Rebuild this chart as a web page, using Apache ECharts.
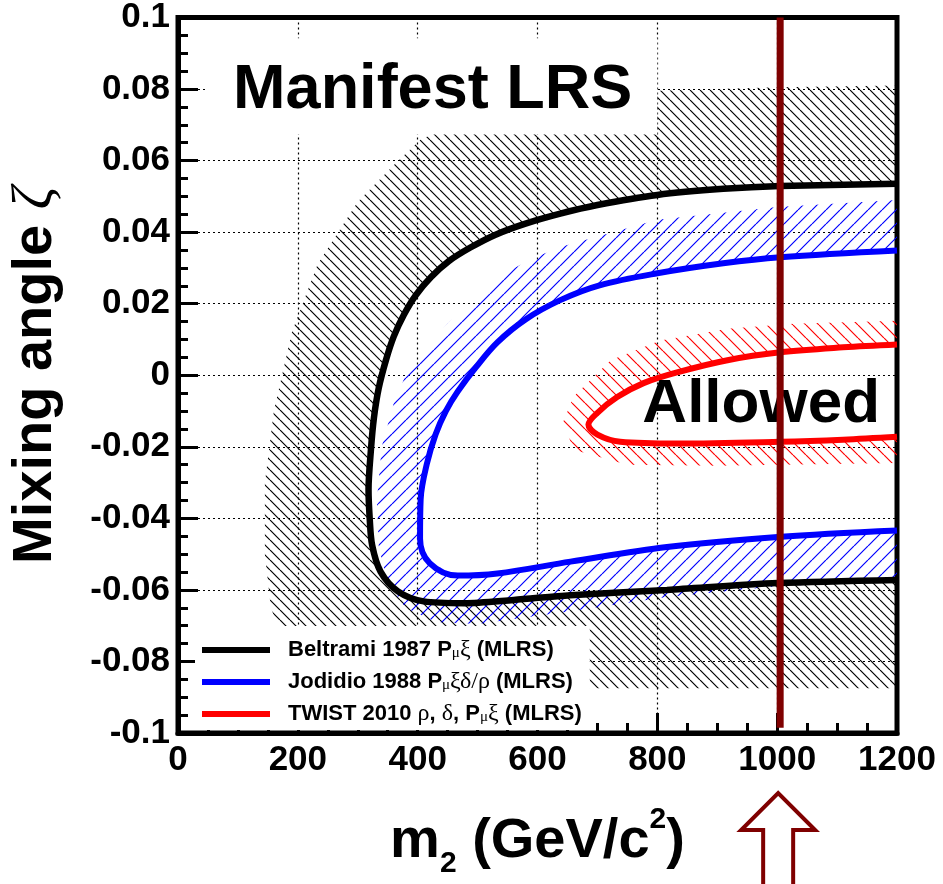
<!DOCTYPE html>
<html><head><meta charset="utf-8">
<script src="https://cdn.jsdelivr.net/npm/echarts@6/dist/echarts.min.js"></script>
<style>html,body{margin:0;padding:0;background:#fff}#c{width:943px;height:884px}</style>
</head><body><div id="c"></div>
<script>
// ---------- data ----------
const xTickLabels = ['0','200','400','600','800','1000','1200'];
const yTickLabels = ['-0.1','-0.08','-0.06','-0.04','-0.02','0','0.02','0.04','0.06','0.08','0.1'];
const seriesNames = ['Beltrami 1987', 'Jodidio 1988', 'TWIST 2010'];

// contour lines [m2 (GeV/c^2), zeta]
const beltramiCurve = [
 [1200,0.0535],[1005,0.0529],[910,0.0521],[800,0.0504],[700,0.0476],[638,0.0452],[580,0.0424],
 [530,0.0393],[488,0.0357],[452,0.0319],[422,0.0274],[397,0.0224],[377,0.0169],[360,0.0108],
 [347,0.0042],[335,-0.0036],[327,-0.0119],[322,-0.0208],[318,-0.0319],[320,-0.0402],[324,-0.0475],
 [338,-0.0549],[367,-0.0604],[410,-0.0632],[477,-0.0637],[560,-0.0628],[655,-0.0615],[816,-0.0600],
 [1001,-0.0581],[1200,-0.0572]];
const jodidioCurve = [
 [1200,0.0349],[1005,0.0330],[910,0.0313],[800,0.0285],[705,0.0252],[638,0.0210],[580,0.0156],
 [533,0.0092],[497,0.0022],[467,-0.0045],[447,-0.0100],[430,-0.0165],[415,-0.0250],[405,-0.0346],
 [404,-0.0457],[420,-0.0525],[467,-0.0560],[533,-0.0554],[655,-0.0521],[816,-0.0480],[1001,-0.0452],[1200,-0.0434]];
const twistCurve = [
 [1200,0.0086],[1110,0.0078],[1005,0.0064],[917,0.0042],[833,0.0008],[777,-0.0022],[733,-0.0061],
 [700,-0.0105],[685,-0.0138],[700,-0.0166],[738,-0.0186],[833,-0.0191],[1005,-0.0186],[1110,-0.0180],[1200,-0.0172]];

// outer edges of the hatched (excluded) bands
const beltramiExcludedEdge = [
 [1200,0.081],[1000,0.0805],[800,0.0795],[600,0.076],[480,0.071],[405,0.066],[360,0.0587],[300,0.0485],
 [233,0.031],[190,0.012],[160,-0.010],[145,-0.030],[145,-0.050],[155,-0.065],[180,-0.076],[220,-0.084],
 [280,-0.0875],[400,-0.0875],[800,-0.0875],[1200,-0.0875]];
const jodidioExcludedEdge = [
 [1200,0.049],[1000,0.047],[800,0.0435],[635,0.0357],[593,0.0327],[550,0.029],[450,0.0145],[385,0.002],
 [360,-0.0078],[340,-0.020],[332,-0.035],[335,-0.048],[350,-0.058],[380,-0.065],[430,-0.069],[500,-0.0695],
 [655,-0.066],[816,-0.062],[1000,-0.059],[1200,-0.0575]];
const twistExcludedEdge = [
 [1200,0.0152],[1027,0.0144],[917,0.0130],[805,0.0097],[722,0.0042],[660,-0.006],[643,-0.013],
 [660,-0.0208],[750,-0.025],[900,-0.0253],[1200,-0.0245]];

const markerMass = 1005;          // vertical marker line
const markerSpan = [-0.0985, 0.1];

// ---------- helpers ----------
function hatch(color, s, dir, lw) {
  const c = document.createElement('canvas'); c.width = s; c.height = s;
  const ctx = c.getContext('2d'); ctx.strokeStyle = color; ctx.lineWidth = lw;
  ctx.beginPath();
  for (let k = -1; k <= 1; k++) {
    if (dir === '\\') { ctx.moveTo(k*s, 0); ctx.lineTo(k*s + s, s); }
    else { ctx.moveTo(k*s, s); ctx.lineTo(k*s + s, 0); }
  }
  ctx.stroke();
  return {image: c, repeat: 'repeat'};
}
function band(name, curve, edge, pattern) {
  const poly = curve.concat(edge.slice().reverse());
  return {
    type: 'custom', name: name, data: poly, silent: true, z: 1, clip: true,
    encode: {x: 0, y: 1},
    renderItem(params, api) {
      if (params.dataIndex !== 0) return null;
      return {type: 'polygon', shape: {points: poly.map(p => api.coord(p))}, style: {fill: pattern}};
    }
  };
}
const F = 'Liberation Sans, Arial, Helvetica, sans-serif';
const SERIF = 'Liberation Serif, Times New Roman, serif';

const legendText = {
  [seriesNames[0]]: '{f|Beltrami 1987 P}{s|μ}{g|ξ}{b| (MLRS)}',
  [seriesNames[1]]: '{f|Jodidio 1988 P}{s|μ}{g|ξδ/ρ}{b| (MLRS)}',
  [seriesNames[2]]: '{f|TWIST 2010 }{g|ρ}{b|, }{g|δ}{b|, P}{s|μ}{g|ξ}{b| (MLRS)}'
};

const chart = echarts.init(document.getElementById('c'), null, {renderer: 'canvas'});
const option = {
  animation: false,
  backgroundColor: '#fff',
  grid: {left: 177, top: 14, width: 720, height: 722, show: true, borderColor: '#000', borderWidth: 5, backgroundColor: 'transparent'},
  legend: {
    data: seriesNames, orient: 'vertical', left: 195, top: 626, icon: 'rect',
    itemWidth: 68, itemHeight: 6, itemGap: 0, padding: [4, 8, 4, 7], backgroundColor: '#fff',
    selectedMode: false,
    formatter: n => legendText[n],
    textStyle: {
      fontFamily: F, fontWeight: 'bold', fontSize: 22, color: '#000',
      rich: {
        f: {fontFamily: F, fontWeight: 'bold', fontSize: 22, color: '#000', lineHeight: 22, padding: [0,0,0,13]},
        b: {fontFamily: F, fontWeight: 'bold', fontSize: 22, color: '#000', lineHeight: 22},
        g: {fontFamily: SERIF, fontWeight: 'normal', fontSize: 24, color: '#000', lineHeight: 22},
        s: {fontFamily: SERIF, fontWeight: 'normal', fontSize: 15, color: '#000', lineHeight: 15, verticalAlign: 'bottom', padding: [16,0,0,0]}
      }
    }
  },
  xAxis: {
    type: 'value', min: 0, max: 1200, interval: 200,
    axisLine: {show: true, onZero: false, lineStyle: {color: '#000', width: 5}},
    axisTick: {show: true, inside: true, length: 20, lineStyle: {color: '#000', width: 3}},
    minorTick: {show: true, splitNumber: 4, length: 10, lineStyle: {color: '#000', width: 3}},
    splitLine: {show: true, lineStyle: {color: '#000', width: 1.2, type: [2, 3]}},
    axisLabel: {margin: 10, fontFamily: F, fontWeight: 'bold', fontSize: 35, color: '#000',
      formatter: (v, i) => xTickLabels[i]},
    name: '{a|m}{s|2}{a| (GeV/c}{p|2}{a|)}', nameLocation: 'middle', nameGap: 72,
    nameTextStyle: {rich: {
      a: {fontFamily: F, fontWeight: 'bold', fontSize: 56, lineHeight: 74, color: '#000'},
      s: {fontFamily: F, fontWeight: 'bold', fontSize: 30, lineHeight: 30, verticalAlign: 'bottom', color: '#000'},
      p: {fontFamily: F, fontWeight: 'bold', fontSize: 30, lineHeight: 30, verticalAlign: 'top', color: '#000'}
    }}
  },
  yAxis: {
    type: 'value', min: -0.1, max: 0.1, interval: 0.02,
    axisLine: {show: true, onZero: false, lineStyle: {color: '#000', width: 5}},
    axisTick: {show: true, inside: true, length: 20, lineStyle: {color: '#000', width: 3}},
    minorTick: {show: true, splitNumber: 4, length: 10, lineStyle: {color: '#000', width: 3}},
    splitLine: {show: true, lineStyle: {color: '#000', width: 1.2, type: [2, 3]}},
    axisLabel: {margin: 8, fontFamily: F, fontWeight: 'bold', fontSize: 35, color: '#000',
      formatter: (v, i) => yTickLabels[i]},
    name: '{a|Mixing angle }{z|ζ}', nameLocation: 'middle', nameRotate: 90, nameGap: 114,
    nameTextStyle: {rich: {
      a: {fontFamily: F, fontWeight: 'bold', fontSize: 56, lineHeight: 56, color: '#000'},
      z: {fontFamily: SERIF, fontStyle: 'italic', fontSize: 56, lineHeight: 56, color: '#000'}
    }}
  },
  series: [
    band('Beltrami excluded', beltramiCurve, beltramiExcludedEdge, hatch('#000', 10, '\\', 1.2)),
    band('Jodidio excluded', jodidioCurve, jodidioExcludedEdge, hatch('#0000ff', 14, '/', 1.2)),
    band('TWIST excluded', twistCurve, twistExcludedEdge, hatch('#ff0000', 13, '\\', 1.2)),
    {type: 'line', name: seriesNames[0], data: beltramiCurve, smooth: 0.3, showSymbol: false, z: 3,
     color: '#000', lineStyle: {color: '#000', width: 6.5}},
    {type: 'line', name: seriesNames[1], data: jodidioCurve, smooth: 0.35, showSymbol: false, z: 3,
     color: '#0000ff', lineStyle: {color: '#0000ff', width: 6}},
    {type: 'line', name: seriesNames[2], data: twistCurve, smooth: 0.35, showSymbol: false, z: 3,
     color: '#ff0000', lineStyle: {color: '#ff0000', width: 6}},
    {type: 'line', name: 'marker', data: [[markerMass, markerSpan[0]], [markerMass, markerSpan[1]]],
     showSymbol: false, z: 6, color: '#7f0000', lineStyle: {color: '#7f0000', width: 7}}
  ]
};
chart.setOption(option);

// annotations placed through the axes' own scales
const P = (x, y) => chart.convertToPixel({xAxisIndex: 0, yAxisIndex: 0}, [x, y]);
const boxTL = P(47, 0.0942), boxBR = P(800, 0.0673);
const manifestAt = P(92, 0.0795);
const allowedAt = P(775, -0.0083);
const mk = P(markerMass, -0.1);
const cx = mk[0] - 2;
chart.setOption({
  graphic: [
    {type: 'rect', z: 4, shape: {x: boxTL[0], y: boxTL[1], width: boxBR[0]-boxTL[0], height: boxBR[1]-boxTL[1]},
     style: {fill: '#fff'}},
    {type: 'text', z: 4, x: manifestAt[0], y: manifestAt[1],
     style: {text: 'Manifest LRS', font: 'bold 63px ' + F, fill: '#000', align: 'left', verticalAlign: 'middle'}},
    {type: 'text', z: 4, x: allowedAt[0], y: allowedAt[1],
     style: {text: 'Allowed', font: 'bold 62px ' + F, fill: '#000', align: 'left', verticalAlign: 'middle'}},
    {type: 'polyline', z: 6, shape: {points: [
       [cx-15, 892], [cx-15, 830], [cx-37, 830], [cx, 793], [cx+37, 830], [cx+15, 830], [cx+15, 892]]},
     style: {stroke: '#7f0000', lineWidth: 4, fill: null}}
  ]
});
</script></body></html>
